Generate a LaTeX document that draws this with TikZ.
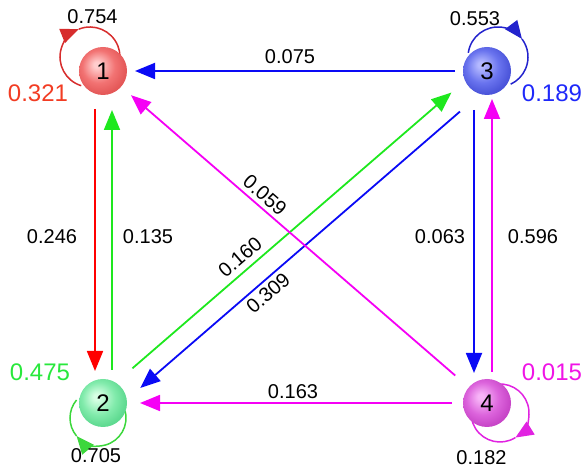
\documentclass[tikz,border=0pt]{standalone}
\usepackage{fontspec}
\setmainfont{Liberation Sans}
\usetikzlibrary{arrows.meta,calc}
\definecolor{hlA}{RGB}{255,205,205}\definecolor{midA}{RGB}{242,115,115}\definecolor{edA}{RGB}{228,88,88}
\definecolor{hlB}{RGB}{215,255,228}\definecolor{midB}{RGB}{130,235,172}\definecolor{edB}{RGB}{95,218,145}
\definecolor{hlC}{RGB}{180,185,255}\definecolor{midC}{RGB}{105,115,238}\definecolor{edC}{RGB}{75,85,218}
\definecolor{hlD}{RGB}{247,180,247}\definecolor{midD}{RGB}{220,100,220}\definecolor{edD}{RGB}{200,70,200}
\definecolor{eRed}{RGB}{255,0,0}\definecolor{eGreen}{RGB}{30,232,30}
\definecolor{eBlue}{RGB}{10,10,245}\definecolor{eMag}{RGB}{245,0,245}
\definecolor{lRed}{RGB}{215,45,45}\definecolor{lGreen}{RGB}{60,215,60}
\definecolor{lBlue}{RGB}{35,35,205}\definecolor{lMag}{RGB}{225,35,225}
\definecolor{vRed}{RGB}{242,60,35}\definecolor{vGreen}{RGB}{40,232,60}
\definecolor{vBlue}{RGB}{30,40,250}\definecolor{vMag}{RGB}{240,20,230}
\pgfdeclareradialshading{sphA}{\pgfpoint{-7bp}{7bp}}{color(0bp)=(hlA); color(3bp)=(hlA); color(17bp)=(midA); color(27bp)=(edA); color(50bp)=(edA)}
\pgfdeclareradialshading{sphB}{\pgfpoint{-7bp}{7bp}}{color(0bp)=(hlB); color(3bp)=(hlB); color(17bp)=(midB); color(27bp)=(edB); color(50bp)=(edB)}
\pgfdeclareradialshading{sphC}{\pgfpoint{-7bp}{7bp}}{color(0bp)=(hlC); color(3bp)=(hlC); color(17bp)=(midC); color(27bp)=(edC); color(50bp)=(edC)}
\pgfdeclareradialshading{sphD}{\pgfpoint{-7bp}{7bp}}{color(0bp)=(hlD); color(3bp)=(hlD); color(17bp)=(midD); color(27bp)=(edD); color(50bp)=(edD)}
\begin{document}
\begin{tikzpicture}[x=1pt,y=1pt,
  lbl/.style={font=\fontsize{20}{23}\selectfont, inner sep=0pt},
  val/.style={font=\fontsize{24}{28}\selectfont, inner sep=0pt},
  sph/.style={circle, minimum size=48pt, inner sep=0pt, font=\fontsize{24}{27}\selectfont},
  conn/.style={line width=1.8pt, -{Triangle[length=20pt,width=16pt]}},
  lp/.style={line width=1.5pt},
  lptip/.style={lp, -{Triangle[length=18pt,width=15pt]}},
]
\useasboundingbox (0,0) rectangle (585,470);
% node centres
\coordinate (c1) at (103,399);
\coordinate (c2) at (103,67);
\coordinate (c3) at (487,399);
\coordinate (c4) at (487,67);
% self loops
\draw[lptip, lRed]   ($(c1)+(-13,14)$) ++(253:30) arc[start angle=253, end angle=112, radius=30];
\draw[lp, lRed]      ($(c1)+(-13,14)$) ++(112:30) arc[start angle=112, end angle=-20, radius=30];
\draw[lptip, lBlue]  ($(c3)+(11,14)$) ++(172:30) arc[start angle=172, end angle=37, radius=30];
\draw[lp, lBlue]     ($(c3)+(11,14)$) ++(37:30) arc[start angle=37, end angle=-65, radius=30];
\draw[lptip, lGreen] ($(c2)+(-5,-15)$) ++(15:28) arc[start angle=15, end angle=-140, radius=28];
\draw[lp, lGreen]    ($(c2)+(-5,-15)$) ++(-140:28) arc[start angle=-140, end angle=-220, radius=28];
\draw[lptip, lMag]   ($(c4)+(13,-10)$) ++(95:29) arc[start angle=95, end angle=-58, radius=29];
\draw[lp, lMag]      ($(c4)+(13,-10)$) ++(-58:29) arc[start angle=-58, end angle=-190, radius=29];
% spheres
\node[sph, shading=sphA] (n1) at (c1) {1};
\node[sph, shading=sphB] (n2) at (c2) {2};
\node[sph, shading=sphC] (n3) at (c3) {3};
\node[sph, shading=sphD] (n4) at (c4) {4};
% connectors
\draw[conn, eBlue, shorten <=32pt, shorten >=32pt] (n3.center) -- (n1.center);
\draw[conn, eMag, shorten <=35pt, shorten >=37pt] (n4.center) -- (n2.center);
\draw[conn, eRed, shorten <=38pt, shorten >=32pt] ($(n1.center)+(-8,0)$) -- ($(n2.center)+(-8,0)$);
\draw[conn, eGreen, shorten <=33pt, shorten >=39pt] ($(n2.center)+(9,0)$) -- ($(n1.center)+(9,0)$);
\draw[conn, eBlue, shorten <=39pt, shorten >=30pt] ($(n3.center)+(-13,0)$) -- ($(n4.center)+(-13,0)$);
\draw[conn, eMag, shorten <=31pt, shorten >=28pt] ($(n4.center)+(5,0)$) -- ($(n3.center)+(5,0)$);
\draw[conn, eGreen, shorten <=45pt, shorten >=41pt] ($(n2.center)!7pt!90:(n3.center)$) -- ($(n3.center)!7pt!-90:(n2.center)$);
\draw[conn, eBlue, shorten <=47pt, shorten >=38pt] ($(n3.center)!13pt!90:(n2.center)$) -- ($(n2.center)!13pt!-90:(n3.center)$);
\draw[conn, eMag, shorten <=42pt, shorten >=37pt] (n4.center) -- (n1.center);
% edge labels
\node[lbl] (l31) at (290,413) {0.075};
\node[lbl] (l12) at (52,233) {0.246};
\node[lbl] (l21) at (148,233) {0.135};
\node[lbl] (l34) at (440,233) {0.063};
\node[lbl] (l43) at (533,233) {0.596};
\node[lbl] (l42) at (293,78) {0.163};
\node[lbl, rotate=-41] (l41) at (265,275) {0.059};
\node[lbl, rotate=40.8] (l23) at (240,213) {0.160};
\node[lbl, rotate=40.8] (l32) at (268,177) {0.309};
% loop labels
\node[lbl] (s1) at (92.5,453) {0.754};
\node[lbl] (s3) at (475,451) {0.553};
\node[lbl] (s2) at (96,14.5) {0.705};
\node[lbl] (s4) at (481.5,12.5) {0.182};
% values
\node[val, vRed] (v1) at (38,376.5) {0.321};
\node[val, vBlue] (v3) at (552,376.5) {0.189};
\node[val, vGreen] (v2) at (40,97.5) {0.475};
\node[val, vMag] (v4) at (552,97.5) {0.015};
\end{tikzpicture}
\end{document}
